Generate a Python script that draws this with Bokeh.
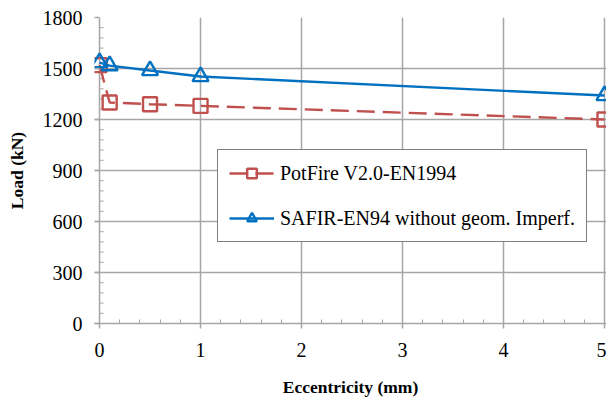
from bokeh.plotting import figure
from bokeh.models import Range1d, FixedTicker, Legend, LegendItem
from bokeh.embed import file_html
from bokeh.resources import INLINE

# Ultimate load versus load eccentricity
ecc = [0.0, 0.1, 0.5, 1.0, 5.0]
potfire = [1520, 1300, 1290, 1280, 1200]
safir = [1535, 1517, 1488, 1453, 1341]

x_ticks = [0, 1, 2, 3, 4, 5]
y_ticks = [0, 300, 600, 900, 1200, 1500, 1800]
y_minor = [v for v in range(0, 1801, 60) if v % 300]

RED = "#C0504D"
BLUE = "#0070C0"
GRID = "#A6A6A6"
FONT = "Liberation Serif"

# a little room left of x=0 so the first markers are not cut by the frame
p = figure(width=606, height=410, output_backend="svg", toolbar_location=None,
           x_range=Range1d(-0.05, 5.02), y_range=Range1d(0, 1800),
           min_border_left=94, min_border_right=0, min_border_top=17,
           min_border_bottom=87)
p.outline_line_color = None

xt = FixedTicker(ticks=x_ticks, minor_ticks=[i * 0.2 for i in range(26)])
yt = FixedTicker(ticks=y_ticks, minor_ticks=[])
p.xaxis.ticker = xt
p.yaxis.ticker = yt
p.xgrid.ticker = FixedTicker(ticks=x_ticks)
p.ygrid.ticker = yt

for ax in (p.xaxis, p.yaxis):
    ax.axis_line_color = GRID
    ax.axis_line_width = 1.5
    ax.major_tick_line_color = GRID
    ax.major_tick_line_width = 1.5
    ax.minor_tick_line_color = GRID
    ax.major_label_text_font = FONT
    ax.major_label_text_font_size = "20px"
    ax.major_label_text_color = "black"
    ax.axis_label_text_font = FONT
    ax.axis_label_text_font_size = "17.5px"
    ax.axis_label_text_font_style = "bold"
    ax.axis_label_text_color = "black"

p.xaxis.major_tick_in = 0
p.xaxis.major_tick_out = 5
p.xaxis.minor_tick_in = 4
p.xaxis.minor_tick_out = 0

# y axis line is the grid line at x=0; ticks reach out to the frame edge
p.yaxis.axis_line_color = None
p.yaxis.major_tick_in = 5
p.yaxis.major_tick_out = 0
p.yaxis.minor_tick_line_color = None

p.xaxis.axis_label = "Eccentricity (mm)"
p.yaxis.axis_label = "Load (kN)"
p.xaxis.major_label_standoff = 14
p.yaxis.major_label_standoff = 12
p.xaxis.axis_label_standoff = 17
p.yaxis.axis_label_standoff = 13

for g in (p.xgrid, p.ygrid):
    g.grid_line_color = GRID
    g.grid_line_width = 1.5

# inner minor ticks on the y axis
p.segment(x0=[0] * len(y_minor), x1=[0.04] * len(y_minor), y0=y_minor, y1=y_minor,
          line_color=GRID, line_width=1)

l1 = p.line(ecc, potfire, line_color=RED, line_width=2.4, line_dash="18 8")
m1 = p.scatter(ecc, potfire, marker="square", size=14, line_color=RED,
               line_width=2.4, fill_color=None)
l2 = p.line(ecc, safir, line_color=BLUE, line_width=2.4)
m2 = p.scatter(ecc, safir, marker="triangle", size=16, line_color=BLUE,
               line_width=2.4, fill_color=None)

legend = Legend(items=[
    LegendItem(label="PotFire V2.0-EN1994", renderers=[l1, m1]),
    LegendItem(label="SAFIR-EN94 without geom. Imperf.", renderers=[l2, m2]),
], location=(123, 81))
legend.border_line_color = "black"
legend.border_line_width = 1.2
legend.background_fill_color = "white"
legend.background_fill_alpha = 1
legend.label_text_font = FONT
legend.label_text_font_size = "20px"
legend.label_text_color = "black"
legend.glyph_width = 45
legend.glyph_height = 24
legend.label_height = 24
legend.label_standoff = 6
legend.spacing = 21
legend.padding = 11
legend.margin = 0
p.add_layout(legend)

open("out.html", "w").write(file_html(p, INLINE))
